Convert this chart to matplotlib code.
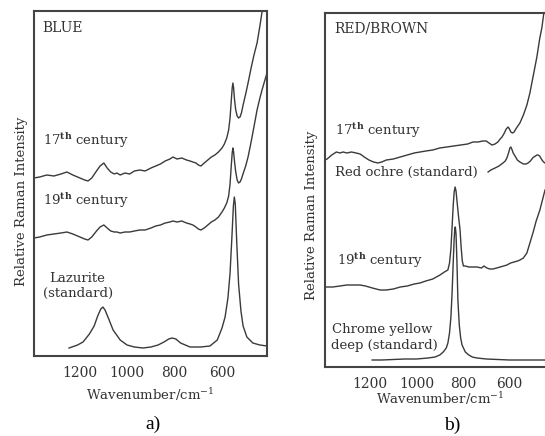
import numpy as np
import matplotlib
matplotlib.use('Agg')
import matplotlib.pyplot as plt

# Raman spectra (wavenumber in cm-1, relative intensity)

# panel a) BLUE
w_17a = [1394, 1370, 1340, 1310, 1280, 1255, 1230, 1200, 1180, 1166, 1150, 1130, 1115, 1099, 1085,
         1070, 1055, 1044, 1030, 1010, 990, 970, 947, 925, 900, 880, 860, 840, 820, 807, 790, 770,
         750, 735, 723, 710, 700, 689, 675, 660, 645, 630, 615, 600, 590, 580, 572, 566, 561, 557,
         554, 551, 547, 542, 536, 530, 524, 518, 510, 500, 490, 478, 466, 452, 440, 431, 420, 410]
i_17a = [178, 179, 181, 180, 182, 184, 181, 178, 176, 175, 178, 185, 190, 193, 188,
         184, 182, 183, 181, 183, 182, 185, 186, 185, 188, 190, 192, 195, 197, 199, 197, 198,
         196, 195, 194, 193, 191, 190, 193, 196, 199, 201, 204, 208, 212, 218, 226, 238, 255, 268,
         273, 268, 256, 246, 240, 238, 239, 243, 252, 262, 273, 287, 300, 313, 330, 344, 362, 380]

w_19a = w_17a
i_19a = [118, 119, 121, 122, 123, 124, 122, 119, 117, 116, 119, 125, 129, 131, 128,
         125, 124, 124, 123, 124, 124, 125, 126, 126, 128, 130, 131, 133, 134, 135, 134, 135,
         133, 132, 131, 129, 127, 126, 128, 131, 134, 136, 139, 144, 148, 153, 160, 172, 190, 203,
         208, 204, 194, 184, 176, 173, 174, 177, 183, 190, 199, 213, 228, 246, 258, 266, 275, 283]

w_laz = [1246, 1210, 1187, 1160, 1140, 1125, 1112, 1103, 1094, 1080, 1060, 1030, 1001, 970, 934,
         900, 870, 845, 825, 811, 795, 775, 735, 690, 651, 620, 600, 587, 575, 566, 558, 552,
         548, 544, 538, 530, 520, 511, 495, 470, 440, 410]
i_laz = [8, 11, 14, 22, 30, 40, 47, 49, 46, 38, 26, 16, 11, 9, 8,
         9, 11, 14, 17, 18, 17, 13, 9, 9, 10, 16, 28, 39, 58, 83, 120, 150,
         159, 152, 115, 72, 45, 30, 19, 13, 11, 10]

# panel b) RED/BROWN
w_17b = [1394, 1385, 1365, 1345, 1330, 1316, 1300, 1280, 1260, 1243, 1225, 1205, 1185, 1166, 1150,
         1130, 1100, 1070, 1040, 1010, 985, 960, 930, 900, 870, 840, 810, 780, 757, 735, 715, 700,
         688, 675, 662, 650, 640, 632, 622, 614, 606, 600, 594, 587, 580, 570, 555, 540, 525, 512,
         497, 482, 470, 460, 452, 445]
i_17b = [207, 208, 212, 215, 214, 215, 214, 215, 214, 213, 210, 207, 205, 204, 205,
         207, 208, 210, 212, 214, 215, 216, 217, 219, 220, 221, 222, 223, 225, 225, 226, 226,
         224, 222, 223, 225, 228, 230, 234, 238, 240, 238, 235, 234, 235, 239, 244, 252, 262, 274,
         292, 310, 328, 340, 354, 365]

w_ochre = [692, 680, 662, 645, 628, 618, 611, 604, 598, 594, 590, 584, 576, 566, 555, 540, 528,
           520, 510, 500, 495, 488, 482, 477, 470, 465, 460, 453, 447]
i_ochre = [195, 197, 199, 201, 204, 206, 209, 214, 219, 220, 218, 214, 211, 207, 205, 203, 203,
           204, 206, 209, 210, 211, 212, 212, 211, 209, 207, 205, 204]

w_19b = [1394, 1385, 1360, 1330, 1300, 1270, 1243, 1220, 1190, 1157, 1130, 1100, 1070, 1040, 1010,
         985, 960, 930, 899, 880, 865, 858, 852, 847, 842, 838, 834, 830, 825, 819, 813, 808, 803,
         798, 790, 775, 757, 740, 720, 710, 697, 685, 671, 655, 640, 625, 611, 595, 580, 565, 555,
         540, 525, 512, 499, 485, 469, 458, 447]
i_19b = [80, 80, 80, 81, 82, 82, 82, 81, 79, 77, 77, 78, 80, 81, 83,
         84, 86, 88, 92, 95, 97, 104, 118, 140, 162, 175, 180, 176, 164, 150, 138, 120, 106,
         101, 101, 100, 100, 100, 99, 101, 99, 98, 98, 99, 100, 101, 102, 104, 105, 106, 107,
         109, 114, 124, 134, 146, 157, 167, 177]

w_chrome = [1191, 1150, 1100, 1050, 1000, 950, 920, 900, 885, 872, 865, 858, 852, 847, 842, 838,
            835, 833, 830, 826, 822, 816, 810, 804, 800, 790, 775, 760, 740, 700, 650, 600, 550,
            500, 447]
i_chrome = [7, 7, 7.5, 8, 8, 9, 10, 12, 15, 19, 24, 34, 50, 74, 105, 128,
            139, 140, 133, 105, 67, 42, 29, 22, 20, 15, 12, 10, 9, 8, 7.5, 7, 7,
            7, 7]

ticks = [1200, 1000, 800, 600]

W, H = 545, 436
LINE = '#3a3a3a'
TXT = '#333333'
plt.rcParams['font.family'] = 'DejaVu Serif'
plt.rcParams['mathtext.fontset'] = 'dejavuserif'

fig = plt.figure(figsize=(W / 100, H / 100), dpi=100)


def box(l, t, r, b):
    return [l / W, 1 - b / H, (r - l) / W, (b - t) / H]


def txt(x, y, s, **kw):
    kw.setdefault('color', TXT)
    kw.setdefault('fontsize', 9.5)
    fig.text(x / W, 1 - y / H, s, **kw)


ax1 = fig.add_axes(box(34, 11, 267, 356))
ax1.plot(w_17a, i_17a, color=LINE, lw=1)
ax1.plot(w_19a, i_19a, color=LINE, lw=1)
ax1.plot(w_laz, i_laz, color=LINE, lw=1)
ax1.set_xlim(1394, 410)
ax1.set_ylim(0, 345)

ax2 = fig.add_axes(box(325, 13, 545, 367))
ax2.plot(w_17b, i_17b, color=LINE, lw=1)
ax2.plot(w_ochre, i_ochre, color=LINE, lw=1)
ax2.plot(w_19b, i_19b, color=LINE, lw=1)
ax2.plot(w_chrome, i_chrome, color=LINE, lw=1)
ax2.set_xlim(1394, 447)
ax2.set_ylim(0, 354)
ax2.spines['right'].set_visible(False)

for ax in (ax1, ax2):
    ax.set_xticks(ticks)
    ax.set_yticks([])
    ax.tick_params(axis='x', length=0, pad=7, labelsize=10, labelcolor=TXT)
    for sp in ax.spines.values():
        sp.set_color('#444444')
        sp.set_linewidth(1.5)

# panel a texts
txt(42, 32, 'BLUE', fontsize=10)
txt(43, 145, r'17$^{\mathbf{th}}$ century')
txt(43, 205, r'19$^{\mathbf{th}}$ century')
txt(77, 282, 'Lazurite', ha='center')
txt(78, 297, '(standard)', ha='center')
txt(22, 201, 'Relative Raman Intensity', rotation=90, ha='center', va='center')
txt(150, 395, r'Wavenumber/cm$^{-1}$', ha='center', va='center')
txt(153, 424, 'a)', ha='center', va='center', fontsize=14, family='Liberation Serif', color='black')

# panel b texts
txt(334, 32, 'RED/BROWN', fontsize=10)
txt(335, 135, r'17$^{\mathbf{th}}$ century')
txt(335, 176, 'Red ochre (standard)')
txt(337, 265, r'19$^{\mathbf{th}}$ century')
txt(332, 333, 'Chrome yellow')
txt(331, 349, 'deep (standard)')
txt(311, 215, 'Relative Raman Intensity', rotation=90, ha='center', va='center')
txt(440, 399, r'Wavenumber/cm$^{-1}$', ha='center', va='center')
txt(452, 425, 'b)', ha='center', va='center', fontsize=14, family='Liberation Serif', color='black')

fig.savefig('out.png', dpi=100)
